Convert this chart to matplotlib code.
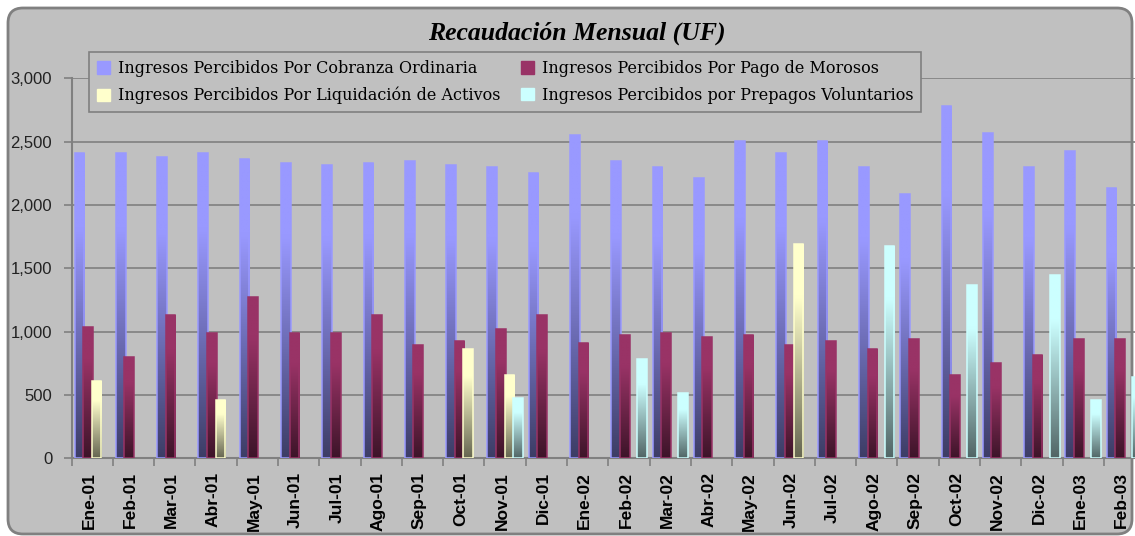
import numpy as np
import matplotlib
matplotlib.use("Agg")
import matplotlib.pyplot as plt
from matplotlib.patches import FancyBboxPatch, Patch
from matplotlib.transforms import IdentityTransform, ScaledTranslation

# Datos (UF)
meses = ["Ene-01", "Feb-01", "Mar-01", "Abr-01", "May-01", "Jun-01", "Jul-01",
         "Ago-01", "Sep-01", "Oct-01", "Nov-01", "Dic-01",
         "Ene-02", "Feb-02", "Mar-02", "Abr-02", "May-02", "Jun-02", "Jul-02",
         "Ago-02", "Sep-02", "Oct-02", "Nov-02", "Dic-02", "Ene-03", "Feb-03"]
cobranza = [2411, 2411, 2379, 2411, 2360, 2331, 2315, 2331, 2347, 2315, 2298, 2250,
            2554, 2344, 2298, 2215, 2505, 2411, 2505, 2298, 2089, 2780, 2570, 2298,
            2425, 2134]
morosos = [1034, 797, 1129, 987, 1272, 987, 987, 1129, 892, 923, 1021, 1129,
           908, 971, 987, 955, 971, 892, 923, 860, 939, 654, 749, 813, 939, 939]
liquidacion = [607, 0, 0, 464, 0, 0, 0, 0, 0, 860, 654, 0,
               0, 0, 0, 0, 0, 1692, 0, 0, 0, 0, 0, 0, 0, 0]
prepagos = [0, 0, 0, 0, 0, 0, 0, 0, 0, 0, 480, 0,
            0, 781, 512, 0, 0, 0, 0, 1679, 0, 1367, 0, 1446, 464, 638]

series = [
    ("Ingresos Percibidos Por Cobranza Ordinaria", cobranza, "#9999FF"),
    ("Ingresos Percibidos Por Pago de Morosos", morosos, "#993366"),
    ("Ingresos Percibidos Por Liquidación de Activos", liquidacion, "#FFFFCC"),
    ("Ingresos Percibidos por Prepagos Voluntarios", prepagos, "#CCFFFF"),
]

BG = "#C0C0C0"
GRID = "#808080"

fig = plt.figure(figsize=(11.35, 5.36), dpi=100)
fig.patch.set_facecolor("white")

# marco redondeado del area del grafico (en pixeles)
frame = FancyBboxPatch((8, 2), 1124, 526, boxstyle="round,pad=0,rounding_size=15",
                       transform=IdentityTransform(), facecolor=BG,
                       edgecolor=GRID, linewidth=2, zorder=-5)
fig.patches.append(frame)

ax = fig.add_axes([71.6 / 1135, 77.7 / 536, 1073.5 / 1135, 380 / 536])
ax.set_facecolor("none")
ax.set_zorder(2)

x = np.arange(len(meses))
w = 0.237
step = 0.2075


def gradient(color, n=80):
    rgb = np.array(matplotlib.colors.to_rgb(color))
    t = np.linspace(1, 0, n)  # fila 0 = arriba
    f = 0.4 + 0.6 * np.clip(t / 0.75, 0, 1)
    return (f[:, None, None] * rgb[None, None, :]).repeat(4, axis=1)


for i, (name, vals, col) in enumerate(series):
    offs = (i - 1.5) * step
    bars = ax.bar(x + offs, vals, w, facecolor="none", edgecolor=col,
                  linewidth=1.1, zorder=3 + i * 0.1 + 0.05)
    img = gradient(col)
    for rect, v in zip(bars, vals):
        if v <= 0:
            rect.set_visible(False)
            continue
        x0 = rect.get_x()
        im = ax.imshow(img, extent=(x0, x0 + w, 0, v), aspect="auto",
                       interpolation="bilinear", zorder=3 + i * 0.1)
        im.set_clip_path(rect)

ax.set_xlim(-0.5, 25.5)
ax.set_ylim(0, 3000)

ax.set_yticks(np.arange(0, 3001, 500))
ax.set_yticklabels([f"{v:,}" for v in range(0, 3001, 500)],
                   fontsize=12, family="Liberation Sans", color="#222222")
ax.tick_params(axis="y", length=6, width=1.2, color=GRID, pad=8)

ax.set_xticks(x)
ax.set_xticklabels(meses, rotation=90, fontsize=12.5, fontweight="bold",
                   family="Liberation Sans", color="black")
ax.tick_params(axis="x", which="major", length=0, pad=10)
shift = ScaledTranslation(-3 / 100, 0, fig.dpi_scale_trans)
for lab in ax.get_xticklabels():
    lab.set_transform(lab.get_transform() + shift)
ax.set_xticks(np.arange(-0.5, 26, 1), minor=True)
ax.tick_params(axis="x", which="minor", length=6, width=1.2, color=GRID)

ax.grid(axis="y", color=GRID, linewidth=1.2, zorder=1)
ax.set_axisbelow(True)
for s in ["top", "right"]:
    ax.spines[s].set_visible(False)
for s in ["left", "bottom"]:
    ax.spines[s].set_color(GRID)
    ax.spines[s].set_linewidth(1.5)

fig.text(577 / 1135, 1 - 33 / 536, "Recaudación Mensual (UF)", ha="center",
         va="center", fontsize=18.5, fontweight="bold", fontstyle="italic",
         family="Liberation Serif")

handles = [Patch(facecolor=c, edgecolor=c) for _, _, c in series]
labels = [n for n, _, _ in series]
order = [0, 2, 1, 3]
leg = fig.legend([handles[k] for k in order], [labels[k] for k in order],
                 ncol=2, loc="upper left",
                 bbox_to_anchor=(89 / 1135, 1 - 52 / 536),
                 prop={"family": "DejaVu Serif", "size": 11.5},
                 frameon=True, fancybox=False, framealpha=1, borderaxespad=0,
                 handlelength=0.8, handleheight=0.8, handletextpad=0.5,
                 labelspacing=0.62, borderpad=0.5, columnspacing=1.3)
leg.set_zorder(5)
leg.get_frame().set_facecolor(BG)
leg.get_frame().set_edgecolor(GRID)
leg.get_frame().set_linewidth(1.2)

fig.savefig("out.png", dpi=100, facecolor="white")
